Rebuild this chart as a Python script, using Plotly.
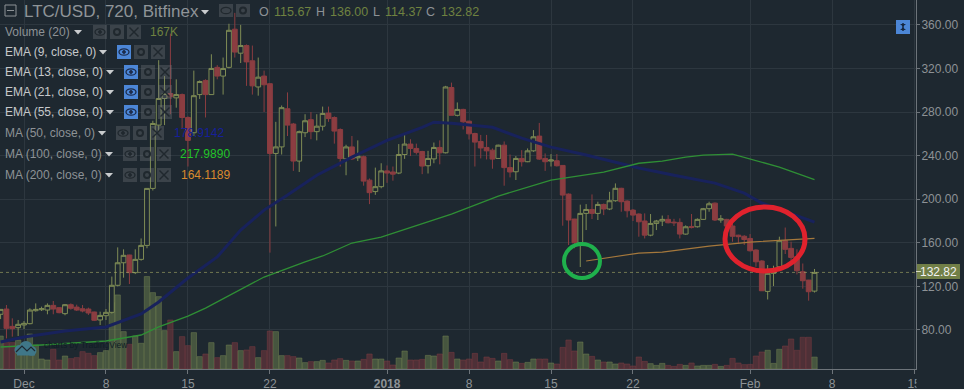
import pandas as pd
import plotly.graph_objects as go

start = "2017-11-29 00:00"
opens = [94.4,99.2,83.3,82.1,84.6,85.8,97.7,98.6,98.3,102.6,100.5,95.0,103.2,101.0,99.5,99.2,96.5,89.2,93.1,96.2,
 121.0,141.7,148.8,132.6,144.8,157.6,209.9,268.0,292.4,297.0,293.0,296.0,275.0,261.0,296.0,309.0,296.0,321.0,313.0,321.0,
 356.0,334.0,341.0,327.0,303.0,313.0,306.0,242.0,248.0,283.0,269.0,235.0,261.0,273.0,262.0,267.0,279.0,275.0,264.0,237.0,
 248.0,238.0,239.0,217.5,207.0,211.5,226.0,225.0,224.0,241.0,250.6,246.6,243.8,230.7,237.0,247.5,242.6,302.5,277.0,282.4,
 271.6,260.3,253.0,247.5,245.0,237.4,249.6,229.0,225.2,237.4,234.4,244.4,257.9,237.4,235.0,235.3,231.0,204.7,181.8,160.0,
 187.0,190.6,187.0,195.2,191.0,198.6,210.0,198.3,190.0,186.4,180.0,167.0,177.8,180.0,181.5,179.0,178.7,168.0,175.0,174.7,
 181.5,191.3,196.4,180.9,181.5,175.4,167.0,166.0,164.0,153.4,143.3,115.4,132.0,138.0,161.9,154.9,147.2,133.5,125.8,115.67]
highs = [99.0,102.9,90.7,89.2,88.2,99.9,104.4,101.4,104.4,106.6,100.8,103.8,104.4,103.2,102.9,100.5,96.8,96.8,99.2,129.0,
 155.8,154.0,149.0,154.0,164.0,210.0,272.0,327.6,313.0,352.0,310.0,297.0,276.0,318.0,309.0,310.0,333.0,323.0,330.0,361.0,
 371.0,360.0,342.0,341.0,330.0,318.0,306.0,271.0,286.0,298.0,270.0,263.0,278.0,280.0,278.0,285.0,285.0,276.0,265.0,250.0,
 258.0,254.0,240.0,219.0,229.0,233.0,231.0,230.0,250.6,259.0,255.0,251.0,244.4,244.4,252.0,254.0,304.0,307.0,288.8,283.0,
 272.0,261.0,259.0,259.0,246.6,250.0,253.0,241.0,239.6,245.0,246.6,263.4,270.0,242.0,241.4,241.4,231.0,205.3,182.0,195.0,
 195.5,204.4,197.7,196.0,206.8,214.5,210.5,199.0,191.0,187.0,187.0,186.4,181.0,185.0,185.4,182.0,182.4,176.0,186.4,182.4,
 192.0,197.7,197.0,185.4,182.0,178.4,167.4,167.0,168.0,154.0,144.0,139.6,139.0,165.6,174.0,161.0,154.0,141.0,126.0,136.0]
lows = [90.0,72.3,73.9,74.5,80.9,85.2,96.8,97.4,94.4,94.4,95.3,93.5,98.6,97.4,96.2,93.8,88.2,84.6,89.2,95.0,
 120.0,128.0,122.2,131.3,143.6,155.0,208.0,262.0,268.0,278.0,284.0,265.0,230.0,258.0,292.0,275.0,296.0,310.0,296.0,320.0,
 330.0,325.0,304.0,296.0,295.0,280.0,151.0,175.0,241.0,258.0,226.0,225.0,257.0,255.0,254.0,263.0,271.0,251.0,230.0,222.0,
 236.0,235.0,212.4,195.5,204.0,210.0,215.0,217.0,223.0,237.0,239.6,241.0,223.0,223.6,233.0,232.0,242.0,277.0,276.0,264.0,
 254.8,230.0,237.4,236.5,228.0,237.0,212.4,220.0,217.6,230.0,234.0,243.5,236.0,226.0,230.0,230.0,175.7,158.0,155.0,137.8,
 171.7,181.8,180.9,185.4,190.0,197.7,188.5,183.3,180.0,165.6,164.0,166.0,171.7,175.4,177.8,175.4,164.0,167.4,173.2,174.0,
 181.0,188.5,180.0,178.4,175.0,161.0,159.4,158.0,152.0,138.0,116.0,108.0,120.3,138.0,149.7,140.0,131.0,117.9,106.9,114.37]
closes = [98.9,81.5,81.2,85.2,86.1,98.3,98.9,99.5,102.6,99.2,95.9,103.2,99.9,98.3,97.4,95.6,88.9,93.4,96.2,121.0,
 141.7,148.5,132.6,144.8,157.6,209.9,269.5,292.4,297.0,294.0,296.0,275.0,254.0,295.0,308.0,296.0,320.0,313.0,320.0,355.0,
 335.0,341.0,326.0,304.0,312.0,305.0,242.0,248.0,284.0,268.0,235.0,262.0,272.0,262.0,267.0,278.7,274.0,262.5,237.4,248.0,
 237.0,239.5,216.6,206.0,211.5,226.0,224.0,223.0,241.0,250.6,246.6,243.0,230.4,237.4,247.5,242.6,303.0,277.0,282.4,271.0,
 260.0,252.4,247.0,244.4,236.8,249.6,229.0,225.0,237.4,234.4,244.4,257.3,236.8,234.4,236.0,230.7,203.8,180.9,160.0,187.0,
 190.6,187.0,195.2,191.0,198.6,210.0,197.7,189.4,185.4,179.3,167.0,177.8,180.0,181.5,178.4,178.4,168.0,174.7,174.0,181.5,
 191.3,195.8,180.9,182.0,175.4,166.0,165.6,163.0,152.7,142.6,116.0,132.0,133.5,161.9,154.0,146.6,134.4,125.2,115.1,132.82]
volumes = [462,406,369,406,360,490,336,140,126,276,126,182,145,159,243,220,187,229,257,929,
 1037,523,346,462,360,1294,1069,1013,537,686,243,453,327,509,173,210,369,159,187,336,
 369,257,266,313,159,257,532,523,187,187,173,154,89,103,103,121,84,126,145,121,
 112,112,135,210,140,140,112,56,154,252,126,126,135,191,182,210,462,233,140,126,
 140,219,98,168,149,112,219,131,98,79,93,140,140,140,84,70,303,406,252,378,
 210,177,126,98,98,70,84,70,42,168,107,75,51,79,51,37,65,51,84,42,
 51,51,65,37,51,149,84,61,65,182,238,262,79,276,322,420,262,444,444,167]

ma50_dates = ["2017-11-29 00:00","2017-12-01 00:00","2017-12-04 12:00","2017-12-08 00:00","2017-12-11 00:00","2017-12-12 12:00","2017-12-15 00:00","2017-12-17 12:00","2017-12-19 12:00","2017-12-21 12:00","2017-12-23 12:00","2017-12-26 00:00","2017-12-29 00:00","2018-01-01 00:00","2018-01-04 00:00","2018-01-05 00:00","2018-01-06 12:00","2018-01-10 00:00","2018-01-12 12:00","2018-01-15 00:00","2018-01-18 00:00","2018-01-22 12:00","2018-01-25 12:00","2018-01-29 00:00","2018-01-31 12:00","2018-02-02 00:00","2018-02-06 12:00"]
ma50_vals = [69,73.6,79,82.8,94.7,105.7,127.7,147,171.7,190,203.8,222,238.6,254,266,270.7,269.8,266,256,247.8,240.5,228.6,222,214.8,205.6,196.5,178.9]
ma100_dates = ["2017-11-29 00:00","2017-12-02 12:00","2017-12-08 00:00","2017-12-11 00:00","2017-12-12 12:00","2017-12-15 00:00","2017-12-16 12:00","2017-12-19 00:00","2017-12-21 12:00","2017-12-25 00:00","2017-12-26 12:00","2017-12-29 00:00","2017-12-31 12:00","2018-01-06 12:00","2018-01-10 12:00","2018-01-15 00:00","2018-01-19 12:00","2018-01-22 12:00","2018-01-24 12:00","2018-01-26 12:00","2018-01-28 00:00","2018-01-30 12:00","2018-02-02 00:00","2018-02-03 12:00","2018-02-06 12:00"]
ma100_vals = [64.4,66.2,69.9,75.4,82.8,92.8,100,114,128.6,142.4,147.9,159.8,165.3,186.4,202.9,217.6,224.9,233,235,238.6,240.5,241.4,234,229.5,218]
ma200_dates = ["2018-01-18 00:00","2018-01-22 12:00","2018-01-24 12:00","2018-01-28 12:00","2018-02-01 00:00","2018-02-06 12:00"]
ma200_vals = [143.3,150.6,151.5,157,160.7,164.1]

x_tick_dates = ["2017-12-01","2017-12-08","2017-12-15","2017-12-22","2018-01-01","2018-01-08","2018-01-15","2018-01-22","2018-02-01","2018-02-08","2018-02-15"]
x_tick_text = ["Dec","8","15","22","<b>2018</b>","8","15","22","Feb","8","15"]
y_ticks = [80,120,160,200,240,280,320,360]
last_price = 132.82

BG = "#1e2830"
GRID = "#2d373f"
AX = "#6d747a"
TXT = "#8d9296"
GREEN = "#7f8c55"
RED = "#8b3d41"
W, H, PW, PH = 964, 390, 916, 369

dates = pd.date_range(start, periods=len(opens), freq="12h")
vol_colors = ["rgba(107,126,76,0.52)" if c >= o else "rgba(122,56,62,0.52)" for o, c in zip(opens, closes)]
vol_lines = ["rgba(120,136,84,0.45)" if c >= o else "rgba(128,62,68,0.45)" for o, c in zip(opens, closes)]

fig = go.Figure()
fig.add_trace(go.Bar(x=dates, y=volumes, marker=dict(color=vol_colors, line=dict(color=vol_lines, width=1)), yaxis="y", showlegend=False))
fig.add_trace(go.Candlestick(x=dates, open=opens, high=highs, low=lows, close=closes, yaxis="y2", showlegend=False,
    increasing=dict(line=dict(color=GREEN, width=1), fillcolor=BG),
    decreasing=dict(line=dict(color=RED, width=1), fillcolor=RED), whiskerwidth=0))
fig.add_trace(go.Scatter(x=ma50_dates, y=ma50_vals, mode="lines", yaxis="y2", line=dict(color="#18225c", width=3), showlegend=False))
fig.add_trace(go.Scatter(x=ma100_dates, y=ma100_vals, mode="lines", yaxis="y2", line=dict(color="#2f8f35", width=1.3), showlegend=False))
fig.add_trace(go.Scatter(x=ma200_dates, y=ma200_vals, mode="lines", yaxis="y2", line=dict(color="#a5783c", width=1.2), showlegend=False))

def px(x): return x / PW
def py(y): return (PH - y) / PH
shapes, annos = [], []

def rect(x0, y0, x1, y1, fill, line=None, lw=0):
    shapes.append(dict(type="rect", xref="paper", yref="paper", x0=px(x0), x1=px(x1), y0=py(y0), y1=py(y1),
                       fillcolor=fill, line=dict(color=line or fill, width=lw)))
def seg(x0, y0, x1, y1, col, lw=1):
    shapes.append(dict(type="line", xref="paper", yref="paper", x0=px(x0), x1=px(x1), y0=py(y0), y1=py(y1), line=dict(color=col, width=lw)))
def oval(cx, cy, rx, ry, line, lw, fill="rgba(0,0,0,0)"):
    shapes.append(dict(type="circle", xref="paper", yref="paper", x0=px(cx-rx), x1=px(cx+rx), y0=py(cy-ry), y1=py(cy+ry),
                       fillcolor=fill, line=dict(color=line, width=lw)))
def tri(x, y, col="#c9ccce"):
    p = f"M {px(x-4)} {py(y-2)} L {px(x+4)} {py(y-2)} L {px(x)} {py(y+2.5)} Z"
    shapes.append(dict(type="path", xref="paper", yref="paper", path=p, fillcolor=col, line=dict(width=0)))
def text(x, y, s, col=TXT, size=12, anchor="left", bg=None):
    annos.append(dict(xref="paper", yref="paper", x=px(x), y=py(y), text=s, showarrow=False, xanchor=anchor, yanchor="middle",
                      align="left", xshift=0, font=dict(family="Liberation Sans, Arial", size=size, color=col), borderpad=0))
def icons(xs, y0, y1, blue=False):
    g = "#20282e"
    cy = (y0 + y1) / 2
    rect(xs[0], y0, xs[0]+14, y1, "#4c86d6" if blue else "rgba(120,125,130,0.32)")
    oval(xs[0]+7, cy, 5, 3.2, "#1c2c4c" if blue else g, 1.3)
    oval(xs[0]+7, cy, 1.4, 1.4, "#1c2c4c" if blue else g, 1, "#1c2c4c" if blue else g)
    rect(xs[1], y0, xs[1]+14, y1, "rgba(120,125,130,0.32)")
    oval(xs[1]+7, cy, 3, 3, g, 2)
    rect(xs[2], y0, xs[2]+14, y1, "rgba(120,125,130,0.32)")
    seg(xs[2]+2.5, y0+2.5, xs[2]+11.5, y1-2.5, g, 1.5)
    seg(xs[2]+11.5, y0+2.5, xs[2]+2.5, y1-2.5, g, 1.5)

# last-price line and label
shapes.append(dict(type="line", xref="paper", yref="y2", x0=0, x1=1, y0=last_price, y1=last_price,
                   line=dict(color="rgba(168,171,104,0.6)", width=1, dash="dot")))
rect(917, 264, 960, 279, "#717f47")
seg(916, 271.5, 921, 271.5, "#d8dcc0", 1)
text(938.5, 271.5, f"{last_price:.2f}", "#f2f2f2", 12, "center")

# annotated ellipses
oval(765, 239, 40, 32, "#e0222d", 5)
oval(582, 261, 18, 17, "#1fb04c", 4)

# clip of the last tick label and right edge
rect(916.5, 370, 964, 389, BG)
rect(0, 389, 964, 390, "#f4f4f4")

# header
rect(5, 5, 16, 16, "rgba(0,0,0,0)", "#8d9296", 1)
seg(7, 10.5, 14, 10.5, "#8d9296", 1)
text(23, 12, "LTC/USD, 720, Bitfinex", "#8f9498", 17)
tri(205, 12)
rect(219, 4, 233, 17, "rgba(120,125,130,0.32)")
oval(226, 10.5, 5, 3.2, "#20282e", 1.3)
rect(236, 4, 250, 17, "rgba(120,125,130,0.32)")
oval(243, 10.5, 3, 3, "#20282e", 2)
OLIVE = "#6f8240"
for x, lab, xv, val in [(258, "O", 273, "115.67"), (315, "H", 329, "136.00"), (372, "L", 384, "114.37"), (425, "C", 440, "132.82")]:
    text(x, 12, lab, "#8d9296", 12.5)
    text(xv, 12, val, OLIVE, 12.5)

# indicator legend
rows = [("Volume (20)", 32, 78, (93,110,127), False, "167K", 149, OLIVE, "#8d9296"),
        ("EMA (9, close, 0)", 52, 103, (117,134,151), True, None, 0, None, "#c6c9cb"),
        ("EMA (13, close, 0)", 72, 110, (124,141,158), True, None, 0, None, "#c6c9cb"),
        ("EMA (21, close, 0)", 92, 110, (124,141,158), True, None, 0, None, "#c6c9cb"),
        ("EMA (55, close, 0)", 112, 110, (124,141,158), True, None, 0, None, "#c6c9cb"),
        ("MA (50, close, 0)", 133, 102, (116,133,150), False, "178.9142", 173, "#16209a", "#8d9296"),
        ("MA (100, close, 0)", 154, 109, (123,140,157), False, "217.9890", 179, "#23c428", "#8d9296"),
        ("MA (200, close, 0)", 175, 109, (123,140,157), False, "164.1189", 180, "#d98a2e", "#8d9296")]
for name, y, tx, xs, blue, val, vx, vc, col in rows:
    text(4, y, name, col, 12)
    tri(tx, y)
    icons(xs, y-7, y+7, blue)
    if val:
        text(vx, y, val, vc, 12)

# blue scale icon
rect(896, 20, 910, 34, "#4c86d6")
seg(903, 23, 903, 31, "#16263f", 1.5)
shapes.append(dict(type="path", xref="paper", yref="paper", fillcolor="#16263f", line=dict(width=0),
    path=f"M {px(900)} {py(24)} L {px(906)} {py(24)} L {px(903)} {py(26.5)} Z M {px(900)} {py(30)} L {px(906)} {py(30)} L {px(903)} {py(27.5)} Z"))

# watermark
oval(20, 350, 5.5, 5, "#3f7788", 0, "#3f7788")
oval(26, 347, 6.5, 6, "#3f7788", 0, "#3f7788")
oval(31.5, 351, 5, 4.8, "#3f7788", 0, "#3f7788")
rect(17, 350, 35, 355.5, "#3f7788")
shapes.append(dict(type="path", xref="paper", yref="paper", line=dict(color="#1e2830", width=1.2),
    path=f"M {px(16)} {py(352)} L {px(22)} {py(346)} L {px(27)} {py(351)} L {px(31)} {py(347)} L {px(35)} {py(351)}"))
text(43, 344.5, "charts by TradingView", "#0f1d25", 8.5)

fig.update_layout(
    width=W, height=H, margin=dict(l=0, r=W-PW, t=0, b=H-PH),
    paper_bgcolor=BG, plot_bgcolor=BG, bargap=0.08, boxgap=0.18, boxgroupgap=0, showlegend=False, dragmode=False,
    shapes=shapes, annotations=annos,
    xaxis=dict(type="date", range=["2017-11-28 22:48", "2018-02-15 04:00"], rangeslider=dict(visible=False),
               tickmode="array", tickvals=x_tick_dates, ticktext=x_tick_text, ticks="outside", ticklen=4, tickcolor=AX,
               showgrid=True, gridcolor=GRID, gridwidth=1, showline=True, linecolor=AX, linewidth=1, zeroline=False,
               tickfont=dict(family="Liberation Sans, Arial", size=12, color=TXT), tickangle=0),
    yaxis=dict(range=[0, 5166], visible=False, showgrid=False, fixedrange=True),
    yaxis2=dict(range=[44.2, 382.8], overlaying="y", side="right", anchor="x", tickmode="array", tickvals=y_ticks,
                tickformat=".2f", ticks="outside", ticklen=3, tickcolor=AX, showgrid=True, gridcolor=GRID, gridwidth=1,
                showline=True, linecolor=AX, linewidth=1, zeroline=False, ticklabelstandoff=-1,
                tickfont=dict(family="Liberation Sans, Arial", size=12, color=TXT)),
)
fig.write_html("out.html", config={"displayModeBar": False},
               post_script="document.body.style.margin='0';document.body.style.overflow='hidden';")
